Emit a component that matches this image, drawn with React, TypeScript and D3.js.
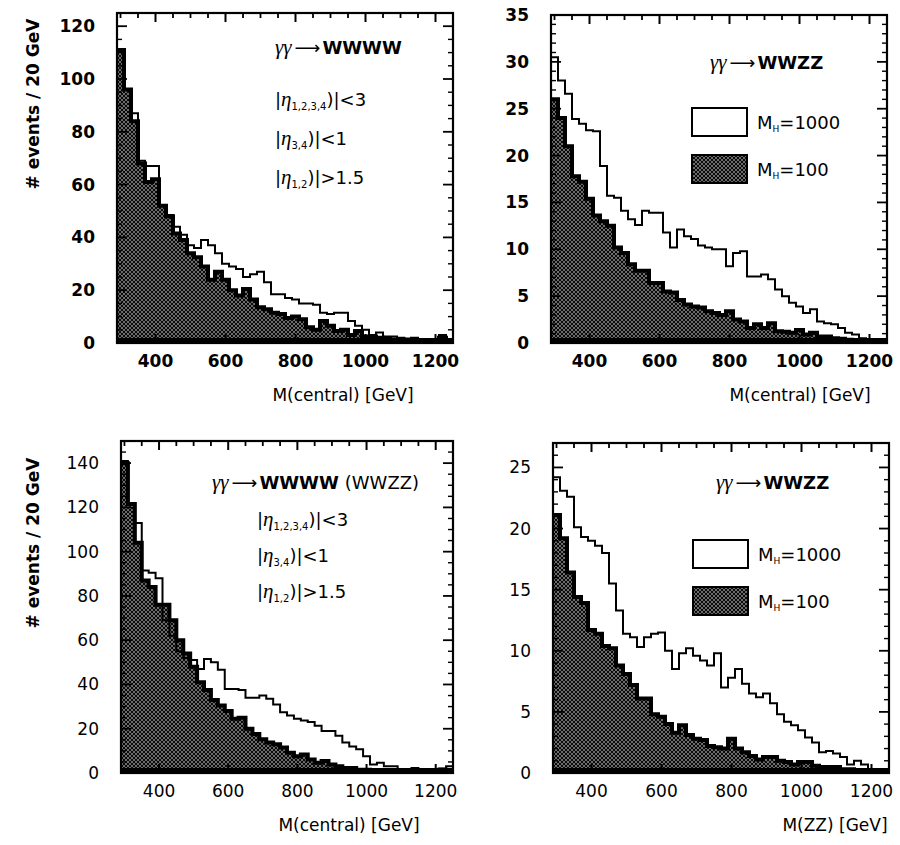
import React from "react";
import * as d3 from "d3";

const width = 900;
const height = 845;

// 20 GeV bins between 290 and 1250 GeV
const binLo = 290;
const binHi = 1250;
const binW = 20;

const xTickLabels = [400, 600, 800, 1000, 1200];

// top left: gamma gamma -> WWWW
const wwwwOpen = [111, 96, 87, 69, 67, 67, 52, 48.5, 44, 41, 37, 36, 39, 37, 34, 30, 29, 28, 25, 26,
  27, 23, 18.5, 18.5, 17, 16.5, 15, 15, 14.5, 11.5, 11, 11.5, 11.5, 8.3, 6.5, 5, 3, 4, 2.5, 2.5,
  2, 1.7, 2, 1.5, 1, 0.8, 3, 1];
const wwwwFilled = [111, 96, 84, 68, 61, 62, 52, 48, 41.5, 39, 34, 32.5, 29, 24, 27, 24, 20, 18, 20.5, 16.5,
  13.5, 12.8, 11.5, 11, 9.5, 10, 9, 6, 5, 8.3, 6.5, 4.5, 5, 3, 4.5, 2.5, 2.5, 2, 1.5, 1.3,
  1.3, 1, 0.7, 0.5, 0.3, 0.3, 2, 0.5];

// top right: gamma gamma -> WWZZ
const wwzzOpen = [30.5, 28, 26.6, 23.9, 23.4, 22.7, 22.6, 18.9, 15.7, 15.5, 14.1, 13.2, 12.6, 14.1, 13.9, 13.9, 11.8, 10.2, 12.1, 11.4,
  11.1, 10.4, 10.2, 10.0, 10.0, 8.2, 9.6, 9.8, 7.1, 7.1, 7.3, 6.8, 5.7, 5.0, 4.3, 3.9, 3.2, 3.6, 2.3, 2.1,
  2.0, 1.6, 1.1, 0.9, 0.5, 0.35, 0.2, 0];
const wwzzFilled = [26, 24, 21, 17.8, 17.2, 15.4, 13.6, 13, 12.5, 10.2, 9.6, 8.4, 7.7, 7.7, 6.4, 6.4, 5.5, 5.4, 4.6, 4.1,
  3.9, 3.8, 3.4, 3.2, 3.0, 3.4, 2.5, 2.3, 1.6, 2.0, 1.6, 2.1, 1.25, 1.2, 1.1, 1.4, 0.9, 1.1, 0.7, 0.7,
  0.5, 0.45, 0.35, 0.3, 0.2, 0.1, 0.1, 0];

// bottom left: WWWW (WWZZ) combined
const combOpen = [141, 121.5, 113, 91.5, 90.5, 88, 69, 62, 55, 52, 51, 47, 51.5, 50, 46.6, 38, 38, 37.5, 34, 34,
  35, 33.6, 31, 27.5, 26, 24.5, 23.7, 23, 21.4, 19, 19, 16.8, 13.8, 12, 10.7, 7.6, 3.8, 4.6, 3, 3,
  1.5, 1.5, 2.3, 1.2, 1, 1.2, 2, 3];
const combFilled = [140, 121.5, 104, 87, 84, 76, 76, 69, 60, 54, 48, 41, 37.5, 33, 30.5, 28, 24.5, 25, 20, 17.6,
  15.3, 13.8, 13, 11.5, 9.2, 7.6, 8.4, 6.1, 4.6, 5.4, 3.8, 3, 2.3, 2.3, 1.5, 1.5, 1.2, 1.0, 0.8, 0.9,
  0.6, 0.5, 0.6, 0.4, 0.5, 0.6, 1.5, 0.3];

// bottom right: M(ZZ)
const zzOpen = [24.2, 23.1, 22.6, 20.1, 19.3, 19, 18.6, 18, 15.5, 13.3, 11.4, 11.1, 10.3, 11.1, 11.4, 11.5, 10, 8.5, 9.8, 10.2,
  9.6, 9.2, 8.8, 9.8, 7, 7.8, 8.5, 7.3, 6.5, 6.2, 6.5, 5.7, 4.8, 4.2, 3.9, 3.5, 2.9, 2.5, 1.7, 1.8,
  1.6, 1.3, 0.7, 1.0, 0.7, 0.3, 0.1, 0];
const zzFilled = [21.1, 19.2, 16.4, 14.4, 13.9, 11.7, 11.4, 10.4, 10.2, 8.8, 8.1, 7.2, 6.1, 6.1, 4.8, 4.6, 4.0, 3.3, 3.9, 3.1,
  2.8, 2.7, 2.2, 2.1, 2.0, 2.8, 2.0, 1.7, 1.4, 1.1, 1.3, 1.3, 1.0, 0.9, 0.7, 0.9, 0.9, 0.6, 0.5, 0.5,
  0.5, 0.3, 0.3, 0.2, 0.2, 0.1, 0.1, 0];

const yTicksBig = [0, 20, 40, 60, 80, 100, 120];
const yTicksBig3 = [0, 20, 40, 60, 80, 100, 120, 140];
const yTicksWWZZ = [0, 5, 10, 15, 20, 25, 30, 35];
const yTicksZZ = [0, 5, 10, 15, 20, 25];

const panels = [
  { left: 117, right: 453, top: 13, bottom: 343, yMax: 125, yTicks: yTicksBig, yMinor: 5, open: wwwwOpen, filled: wwwwFilled, xTitle: "M(central) [GeV]", titleX: 343, bold: true },
  { left: 551, right: 887, top: 15, bottom: 343, yMax: 35, yTicks: yTicksWWZZ, yMinor: 1, open: wwzzOpen, filled: wwzzFilled, xTitle: "M(central) [GeV]", titleX: 800, bold: true },
  { left: 121, right: 453, top: 441, bottom: 773, yMax: 150, yTicks: yTicksBig3, yMinor: 5, open: combOpen, filled: combFilled, xTitle: "M(central) [GeV]", titleX: 349, bold: false },
  { left: 553, right: 889, top: 443, bottom: 773, yMax: 27, yTicks: yTicksZZ, yMinor: 1, open: zzOpen, filled: zzFilled, xTitle: "M(ZZ) [GeV]", titleX: 835, bold: false },
];

const sans = "DejaVu Sans";

function Process({ x, y, tail, extra }) {
  return (
    <text x={x} y={y} fontFamily={sans} fontSize={18}>
      <tspan fontFamily="Liberation Serif" fontStyle="italic" fontSize={21}>γγ</tspan>
      <tspan dx={3} fontSize={18}>⟶</tspan>
      <tspan dx={2} fontFamily={sans} fontWeight="bold" fontSize={18}>{tail}</tspan>
      {extra && <tspan dx={6} fontFamily={sans} fontSize={18}>{extra}</tspan>}
    </text>
  );
}

function Cut({ x, y, sub, rest }) {
  return (
    <text x={x} y={y} fontFamily={sans} fontSize={18}>
      <tspan>|</tspan>
      <tspan fontFamily="Liberation Serif" fontStyle="italic" fontSize={21}>η</tspan>
      <tspan fontSize={10} dy={4}>{sub}</tspan>
      <tspan dy={-4}>{rest}</tspan>
    </text>
  );
}

function Cuts({ x, y0, gap }) {
  return (
    <g>
      <Cut x={x} y={y0} sub="1,2,3,4" rest=")|<3" />
      <Cut x={x} y={y0 + gap} sub="3,4" rest=")|<1" />
      <Cut x={x} y={y0 + gap * 2} sub="1,2" rest=")|>1.5" />
    </g>
  );
}

function Legend({ x, y }) {
  return (
    <g>
      <rect x={x} y={y} width={55} height={28} fill="#fff" stroke="#000" strokeWidth={2} />
      <rect x={x} y={y + 47} width={55} height={28} fill="url(#hatch)" stroke="#000" strokeWidth={2} />
      <text x={x + 65} y={y + 21} fontFamily={sans} fontSize={18}>
        M<tspan fontSize={9} dy={3}>H</tspan><tspan dy={-3}>=1000</tspan>
      </text>
      <text x={x + 65} y={y + 68} fontFamily={sans} fontSize={18}>
        M<tspan fontSize={9} dy={3}>H</tspan><tspan dy={-3}>=100</tspan>
      </text>
    </g>
  );
}

function Panel({ p, idx }) {
  const x = d3.scaleLinear().domain([binLo, binHi]).range([p.left, p.right]);
  const y = d3.scaleLinear().domain([0, p.yMax]).range([p.bottom, p.top]);
  const edges = d3.range(binLo, binHi + 1, binW);
  const pts = (vals) => edges.map((e, i) => ({ e, v: vals[Math.min(i, vals.length - 1)] }));

  const line = d3.line().x((d) => x(d.e)).y((d) => y(d.v)).curve(d3.curveStepAfter);
  const area = d3.area().x((d) => x(d.e)).y0(y(0)).y1((d) => y(d.v)).curve(d3.curveStepAfter);

  const xMinor = d3.range(300, binHi, 50).filter((v) => !xTickLabels.includes(v));
  const yMinor = d3.range(0, p.yMax + 0.001, p.yMinor).filter((v) => !p.yTicks.includes(v));
  const weight = p.bold ? "bold" : "normal";

  return (
    <g>
      <g clipPath={`url(#clip${idx})`}>
        <path d={area(pts(p.filled))} fill="url(#hatch)" />
        <path d={line(pts(p.filled))} fill="none" stroke="#000" strokeWidth={4} />
        <rect x={p.left} y={p.bottom - 5} width={p.right - p.left} height={5} fill="#000" />
        <path d={line(pts(p.open))} fill="none" stroke="#000" strokeWidth={2} />
      </g>

      {/* inward ticks on all four sides */}
      {xTickLabels.map((v) => (
        <g key={"xm" + v}>
          <line x1={x(v)} x2={x(v)} y1={p.top} y2={p.top + 9} stroke="#000" strokeWidth={2} />
          <line x1={x(v)} x2={x(v)} y1={p.bottom} y2={p.bottom - 9} stroke="#000" strokeWidth={2} />
        </g>
      ))}
      {xMinor.map((v) => (
        <g key={"xn" + v}>
          <line x1={x(v)} x2={x(v)} y1={p.top} y2={p.top + 5} stroke="#000" strokeWidth={1.8} />
          <line x1={x(v)} x2={x(v)} y1={p.bottom} y2={p.bottom - 5} stroke="#000" strokeWidth={1.8} />
        </g>
      ))}
      {p.yTicks.map((v) => (
        <g key={"ym" + v}>
          <line x1={p.left} x2={p.left + 10} y1={y(v)} y2={y(v)} stroke="#000" strokeWidth={1.8} />
          <line x1={p.right} x2={p.right - 10} y1={y(v)} y2={y(v)} stroke="#000" strokeWidth={1.8} />
        </g>
      ))}
      {yMinor.map((v) => (
        <g key={"yn" + v}>
          <line x1={p.left} x2={p.left + 5} y1={y(v)} y2={y(v)} stroke="#000" strokeWidth={1.4} />
          <line x1={p.right} x2={p.right - 5} y1={y(v)} y2={y(v)} stroke="#000" strokeWidth={1.4} />
        </g>
      ))}

      <rect x={p.left} y={p.top} width={p.right - p.left} height={p.bottom - p.top} fill="none" stroke="#000" strokeWidth={2.2} />

      {xTickLabels.map((v) => (
        <text key={"xl" + v} x={x(v)} y={p.bottom + 24} textAnchor="middle" fontFamily={sans} fontWeight={weight} fontSize={17}>{v}</text>
      ))}
      {p.yTicks.map((v) => (
        <text key={"yl" + v} x={p.left - 22} y={y(v) + 6} textAnchor="end" fontFamily={sans} fontWeight={weight} fontSize={17}>{v}</text>
      ))}
      <text x={p.titleX} y={p.bottom + 58} textAnchor="middle" fontFamily={sans} fontSize={17}>{p.xTitle}</text>
    </g>
  );
}

export default function App() {
  return (
    <svg width={width} height={height} style={{ position: "absolute", left: 0, top: 0, background: "#fff" }}>
      <defs>
        <pattern id="hatch" width={4} height={4} patternUnits="userSpaceOnUse">
          <rect width={4} height={4} fill="#6c6c6c" />
          <path d="M0,0L4,4M4,0L0,4" stroke="#0a0a0a" strokeWidth={1} />
        </pattern>
        {panels.map((p, i) => (
          <clipPath id={`clip${i}`} key={i}>
            <rect x={p.left} y={p.top} width={p.right - p.left} height={p.bottom - p.top} />
          </clipPath>
        ))}
      </defs>
      <rect width={width} height={height} fill="#fff" />

      {panels.map((p, i) => <Panel key={i} p={p} idx={i} />)}

      <text transform="translate(39,104) rotate(-90)" textAnchor="middle" fontFamily={sans} fontWeight="bold" fontSize={17}># events / 20 GeV</text>
      <text transform="translate(39,543) rotate(-90)" textAnchor="middle" fontFamily={sans} fontWeight="bold" fontSize={17}># events / 20 GeV</text>

      <Process x={275} y={54} tail="WWWW" />
      <Cuts x={275} y0={106} gap={39} />

      <Process x={710} y={69} tail="WWZZ" />
      <Legend x={692} y={108} />

      <Process x={212} y={489} tail="WWWW" extra="(WWZZ)" />
      <Cuts x={257} y0={526} gap={36} />

      <Process x={716} y={489} tail="WWZZ" />
      <Legend x={693} y={540} />
    </svg>
  );
}
